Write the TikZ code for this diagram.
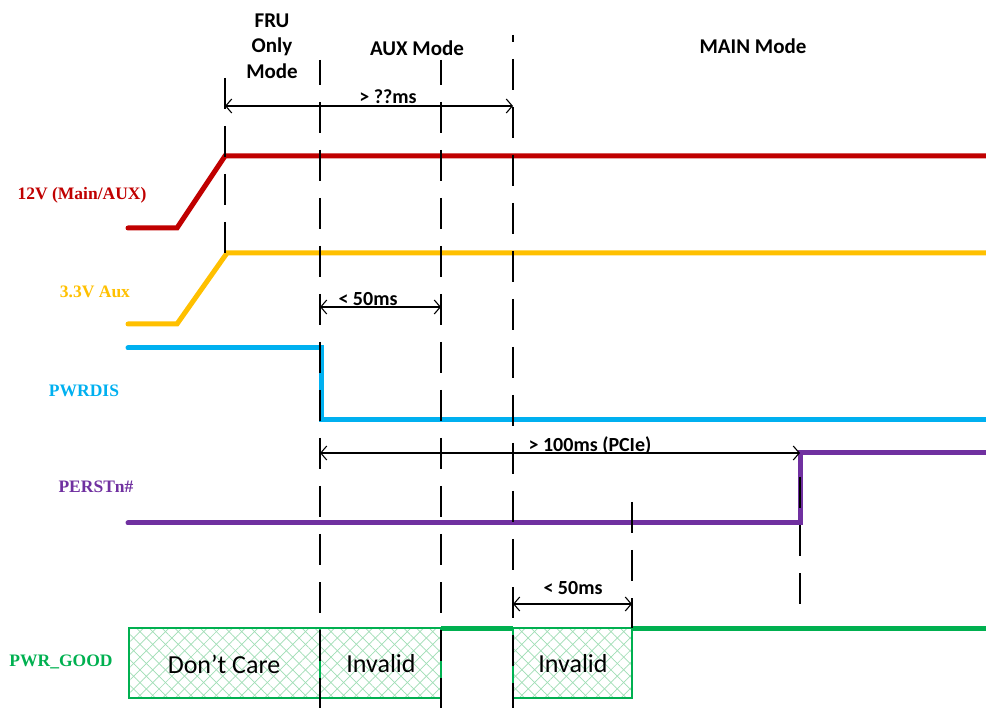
\documentclass[tikz,border=0pt]{standalone}
\usepackage{fontspec}
\setmainfont{Carlito}
\newfontfamily\sigfont{Liberation Serif}
\usetikzlibrary{arrows.meta,patterns.meta}
\definecolor{cred}{HTML}{C00000}
\definecolor{corange}{HTML}{FFC000}
\definecolor{ccyan}{HTML}{00B0F0}
\definecolor{cpurple}{HTML}{7030A0}
\definecolor{cgreen}{HTML}{00B050}
\definecolor{chatch}{RGB}{160,222,182}
\begin{document}
\begin{tikzpicture}[x=1pt,y=-1pt,
  sig/.style={line width=5pt,line cap=round,line join=miter},
  vdash/.style={black,line width=1.5pt,dash pattern=on 31pt off 17pt},
  dim/.style={black,line width=1.1pt,{Straight Barb[length=6pt,width=14pt]}-{Straight Barb[length=6pt,width=14pt]}},
  siglabel/.style={font=\sigfont\bfseries\fontsize{17.5}{19}\selectfont},
  toplabel/.style={font=\bfseries\fontsize{21}{25.5}\selectfont,align=center},
  dimlabel/.style={font=\bfseries\fontsize{20}{22}\selectfont},
  boxlabel/.style={font=\fontsize{26}{28}\selectfont},
  hatchbox/.style={draw=cgreen,line width=1.3pt}]
\useasboundingbox (0,0) rectangle (986,708);

% hatched boxes
\foreach \a/\b in {129/320,320/441,513/632}{
  \fill[white] (\a,628) rectangle (\b,698);
  \fill[pattern={Lines[angle=45,distance=9pt,line width=0.7pt]},pattern color=chatch] (\a,628) rectangle (\b,698);
  \fill[pattern={Lines[angle=-45,distance=9pt,line width=0.7pt]},pattern color=chatch] (\a,628) rectangle (\b,698);
  \draw[hatchbox] (\a,628) rectangle (\b,698);
}

% signals
\draw[sig,cred] (128,228) -- (177,228) -- (225,156) -- (990,156);
\draw[sig,corange] (128,324) -- (177,324) -- (227,253) -- (990,253);
\draw[sig,ccyan] (128,348) -- (321,348) -- (321,420) -- (990,420);
\draw[sig,cpurple] (128,523) -- (800,523) -- (800,453) -- (990,453);
\draw[sig,cgreen,line cap=butt] (441,628) -- (513,628);
\draw[sig,cgreen,line cap=butt] (632,628) -- (990,628);

% dashed verticals
\draw[vdash] (225,78) -- (225,253);
\draw[vdash,dash phase=6pt] (320,60) -- (320,708);
\draw[vdash,dash phase=6pt] (441,60) -- (441,708);
\draw[vdash,dash phase=24pt] (513,35) -- (513,708);
\draw[vdash] (632,502) -- (632,628);
\draw[vdash] (800,477) -- (800,605);

% dimension arrows
\coordinate (d1a) at (225,106); \coordinate (d1b) at (513,106);
\coordinate (d2a) at (320,307); \coordinate (d2b) at (441,307);
\coordinate (d3a) at (320,453); \coordinate (d3b) at (800,453);
\coordinate (d4a) at (513,604); \coordinate (d4b) at (632,604);
\draw[dim] (d1a) -- (d1b);
\draw[dim] (d2a) -- (d2b);
\draw[dim] (d3a) -- (d3b);
\draw[dim] (d4a) -- (d4b);

\node[dimlabel] (l1) at (388,97) {> ??ms};
\node[dimlabel] (l2) at (368,299) {< 50ms};
\node[dimlabel] (l3) at (590,446) {> 100ms (PCIe)};
\node[dimlabel] (l4) at (573,588) {< 50ms};

% top labels
\node[toplabel] (fru) at (272,46) {FRU\\Only\\Mode};
\node[toplabel] (aux) at (417,48) {AUX Mode};
\node[toplabel] (main) at (753,46) {MAIN Mode};

% signal labels
\node[siglabel,text=cred] (n12) at (82,195) {12V (Main/AUX)};
\node[siglabel,text=corange] (n33) at (95,292) {3.3V Aux};
\node[siglabel,text=ccyan] (npd) at (84,391) {PWRDIS};
\node[siglabel,text=cpurple] (npr) at (96,487) {PERSTn\#};
\node[siglabel,text=cgreen] (npg) at (61,662) {PWR\_GOOD};

% box labels
\node[boxlabel] (b1) at (224,664) {Don’t Care};
\node[boxlabel] (b2) at (381,664) {Invalid};
\node[boxlabel] (b3) at (573,664) {Invalid};
\end{tikzpicture}
\end{document}
